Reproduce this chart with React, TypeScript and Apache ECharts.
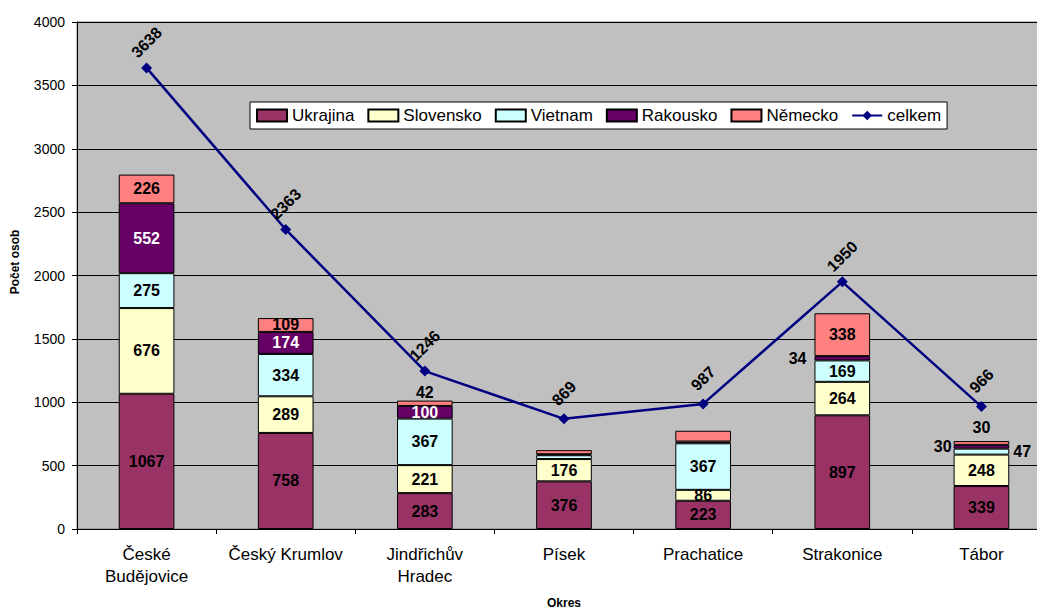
import React, { useEffect, useRef } from "react";
import * as echarts from "echarts";

const categories = ["České\nBudějovice", "Český Krumlov", "Jindřichův\nHradec", "Písek", "Prachatice", "Strakonice", "Tábor"];
const ukrajina = [1067, 758, 283, 376, 223, 897, 339];
const slovensko = [676, 289, 221, 176, 86, 264, 248];
const vietnam = [275, 334, 367, 30, 367, 169, 47];
const rakousko = [552, 174, 100, 8, 14, 34, 30];
const nemecko = [226, 109, 42, 32, 85, 338, 30];
const celkem = [3638, 2363, 1246, 869, 987, 1950, 966];
const yTicks = [0, 500, 1000, 1500, 2000, 2500, 3000, 3500, 4000];

// label placement per bar segment ("" = inside, "hide" = no label)
const ukrajinaPos = ["", "", "", "", "", "", ""];
const slovenskoPos = ["", "", "", "", "", "", ""];
const vietnamPos = ["", "", "", "hide", "", "", "right"];
const rakouskoPos = ["", "", "", "hide", "hide", "left", "left"];
const nemeckoPos = ["", "", "top", "hide", "hide", "", "top"];
const vietnamDist = [0, 0, 0, 0, 0, 0, 4];
const rakouskoDist = [0, 0, 0, 0, 0, 8, 2];
const nemeckoDist = [0, 0, 0, 0, 0, 0, 6];

const FONT = "'Liberation Sans', Arial, sans-serif";

function buildData(values: number[], pos: string[], dist?: number[]) {
  return values.map((v, i) => {
    const p = pos[i];
    if (p === "hide") return { value: v, label: { show: false } };
    if (p === "left" || p === "right" || p === "top")
      return { value: v, label: { show: true, position: p, distance: dist ? dist[i] : 5, color: "#000" } };
    return { value: v };
  });
}

export default function App() {
  const ref = useRef<HTMLDivElement>(null);
  useEffect(() => {
    if (!ref.current) return;
    const chart = echarts.init(ref.current, undefined, { renderer: "svg" });
    const barBase = (name: string, color: string, values: number[], pos: string[], dist?: number[], labelColor = "#000") => ({
      name,
      type: "bar",
      stack: "total",
      barWidth: "40%",
      data: buildData(values, pos, dist),
      itemStyle: { color, borderColor: "#000", borderWidth: 1 },
      label: {
        show: true,
        position: "inside",
        color: labelColor,
        fontFamily: FONT,
        fontWeight: "bold",
        fontSize: 16,
      },
    });
    chart.setOption({
      animation: false,
      backgroundColor: "#fff",
      textStyle: { fontFamily: FONT },
      grid: {
        left: 77,
        right: 9,
        top: 22,
        bottom: 81,
        outerBoundsMode: "none",
        containLabel: false,
        show: true,
        backgroundColor: "#C0C0C0",
        borderColor: "#808080",
        borderWidth: 1,
      },
      legend: {
        left: 250,
        top: 102,
        backgroundColor: "#fff",
        borderColor: "#000",
        borderWidth: 1,
        padding: [5, 6],
        itemWidth: 30,
        itemHeight: 12,
        itemGap: 13,
        textStyle: { fontFamily: FONT, fontSize: 17, color: "#000" },
        data: [
          { name: "Ukrajina", icon: "rect" },
          { name: "Slovensko", icon: "rect" },
          { name: "Vietnam", icon: "rect" },
          { name: "Rakousko", icon: "rect" },
          { name: "Německo", icon: "rect" },
          { name: "celkem" },
        ],
      },
      xAxis: {
        type: "category",
        data: categories,
        name: "Okres",
        nameLocation: "middle",
        nameGap: 68,
        nameTextStyle: { fontFamily: FONT, fontWeight: "bold", fontSize: 12, color: "#000" },
        axisLine: { lineStyle: { color: "#000", width: 1 } },
        axisTick: { show: true, length: 5, lineStyle: { color: "#000" } },
        axisLabel: { fontFamily: FONT, fontSize: 17, color: "#000", margin: 14, lineHeight: 22, interval: 0 },
        splitLine: { show: false },
      },
      yAxis: {
        type: "value",
        min: yTicks[0],
        max: yTicks[yTicks.length - 1],
        interval: 500,
        axisLine: { show: true, lineStyle: { color: "#000", width: 1 } },
        axisTick: { show: true, length: 5, lineStyle: { color: "#000" } },
        axisLabel: { fontFamily: FONT, fontSize: 14, color: "#000", margin: 12, formatter: (v: number) => String(v) },
        splitLine: { show: true, lineStyle: { color: "#000", width: 1 } },
      },
      graphic: [
        {
          type: "text",
          x: 15,
          y: 262,
          rotation: Math.PI / 2,
          style: {
            text: "Počet osob",
            font: `bold 12px ${FONT}`,
            fill: "#000",
            align: "center",
            verticalAlign: "middle",
          },
        },
      ],
      series: [
        barBase("Ukrajina", "#993366", ukrajina, ukrajinaPos),
        barBase("Slovensko", "#FFFFCC", slovensko, slovenskoPos),
        barBase("Vietnam", "#CCFFFF", vietnam, vietnamPos, vietnamDist),
        barBase("Rakousko", "#660066", rakousko, rakouskoPos, rakouskoDist, "#fff"),
        barBase("Německo", "#FF8080", nemecko, nemeckoPos, nemeckoDist),
        {
          name: "celkem",
          type: "line",
          data: celkem,
          z: 10,
          symbol: "diamond",
          symbolSize: 11,
          lineStyle: { color: "#000080", width: 2.5 },
          itemStyle: { color: "#000080" },
          label: {
            show: true,
            position: "top",
            distance: 20,
            rotate: 45,
            align: "center",
            verticalAlign: "middle",
            fontFamily: FONT,
            fontWeight: "bold",
            fontSize: 16,
            color: "#000",
          },
        },
      ],
    });
    return () => chart.dispose();
  }, []);
  return (
    <div style={{ position: "fixed", left: 0, top: 0, width: 1037, height: 610, overflow: "hidden", background: "#fff" }}>
      <div ref={ref} style={{ width: 1060, height: 610 }} />
    </div>
  );
}
